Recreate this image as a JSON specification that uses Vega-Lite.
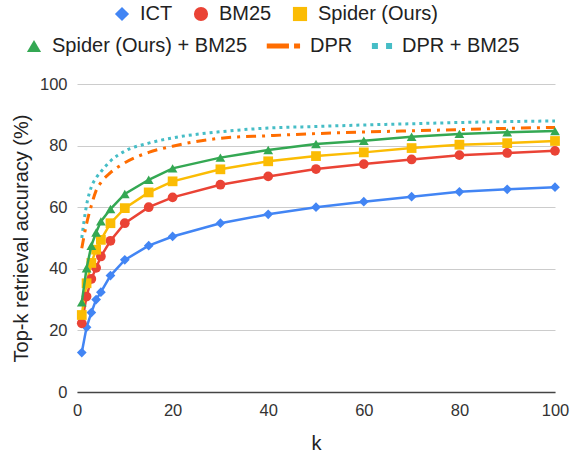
{
  "$schema": "https://vega.github.io/schema/vega-lite/v6.json",
  "width": 478,
  "height": 308,
  "autosize": {"type": "none"},
  "padding": {"left": 77, "top": 84, "right": 19, "bottom": 69},
  "background": "white",
  "config": {
    "font": "Liberation Sans",
    "view": {"stroke": null},
    "axis": {"labelFont": "Liberation Sans", "titleFont": "Liberation Sans", "labelColor": "#333", "titleColor": "#222", "titleFontWeight": "normal"},
    "legend": {"labelFont": "Liberation Sans", "labelFontSize": 20, "labelColor": "#222", "symbolSize": 200, "labelOffset": 8, "symbolStrokeWidth": 0, "labelLimit": 400}
  },
  "data": {
    "values": [
      {"k": 1, "s": "ICT", "v": 12.8}, {"k": 2, "s": "ICT", "v": 21.0}, {"k": 3, "s": "ICT", "v": 25.8}, {"k": 4, "s": "ICT", "v": 30.0}, {"k": 5, "s": "ICT", "v": 32.4}, {"k": 7, "s": "ICT", "v": 37.8}, {"k": 10, "s": "ICT", "v": 42.9}, {"k": 15, "s": "ICT", "v": 47.5}, {"k": 20, "s": "ICT", "v": 50.5}, {"k": 30, "s": "ICT", "v": 54.8}, {"k": 40, "s": "ICT", "v": 57.7}, {"k": 50, "s": "ICT", "v": 60.0}, {"k": 60, "s": "ICT", "v": 61.8}, {"k": 70, "s": "ICT", "v": 63.4}, {"k": 80, "s": "ICT", "v": 65.0}, {"k": 90, "s": "ICT", "v": 65.8}, {"k": 100, "s": "ICT", "v": 66.5},
      {"k": 1, "s": "BM25", "v": 22.3}, {"k": 2, "s": "BM25", "v": 31.0}, {"k": 3, "s": "BM25", "v": 36.7}, {"k": 4, "s": "BM25", "v": 40.3}, {"k": 5, "s": "BM25", "v": 44.0}, {"k": 7, "s": "BM25", "v": 49.1}, {"k": 10, "s": "BM25", "v": 54.8}, {"k": 15, "s": "BM25", "v": 60.0}, {"k": 20, "s": "BM25", "v": 63.2}, {"k": 30, "s": "BM25", "v": 67.3}, {"k": 40, "s": "BM25", "v": 70.0}, {"k": 50, "s": "BM25", "v": 72.4}, {"k": 60, "s": "BM25", "v": 74.0}, {"k": 70, "s": "BM25", "v": 75.5}, {"k": 80, "s": "BM25", "v": 76.9}, {"k": 90, "s": "BM25", "v": 77.6}, {"k": 100, "s": "BM25", "v": 78.3},
      {"k": 1, "s": "Spider (Ours)", "v": 25.0}, {"k": 2, "s": "Spider (Ours)", "v": 35.3}, {"k": 3, "s": "Spider (Ours)", "v": 41.9}, {"k": 4, "s": "Spider (Ours)", "v": 46.2}, {"k": 5, "s": "Spider (Ours)", "v": 49.4}, {"k": 7, "s": "Spider (Ours)", "v": 54.8}, {"k": 10, "s": "Spider (Ours)", "v": 59.7}, {"k": 15, "s": "Spider (Ours)", "v": 64.8}, {"k": 20, "s": "Spider (Ours)", "v": 68.4}, {"k": 30, "s": "Spider (Ours)", "v": 72.3}, {"k": 40, "s": "Spider (Ours)", "v": 74.9}, {"k": 50, "s": "Spider (Ours)", "v": 76.6}, {"k": 60, "s": "Spider (Ours)", "v": 77.8}, {"k": 70, "s": "Spider (Ours)", "v": 79.2}, {"k": 80, "s": "Spider (Ours)", "v": 80.3}, {"k": 90, "s": "Spider (Ours)", "v": 80.8}, {"k": 100, "s": "Spider (Ours)", "v": 81.5},
      {"k": 1, "s": "Spider (Ours) + BM25", "v": 29.1}, {"k": 2, "s": "Spider (Ours) + BM25", "v": 40.2}, {"k": 3, "s": "Spider (Ours) + BM25", "v": 47.5}, {"k": 4, "s": "Spider (Ours) + BM25", "v": 51.8}, {"k": 5, "s": "Spider (Ours) + BM25", "v": 55.4}, {"k": 7, "s": "Spider (Ours) + BM25", "v": 59.4}, {"k": 10, "s": "Spider (Ours) + BM25", "v": 64.3}, {"k": 15, "s": "Spider (Ours) + BM25", "v": 68.9}, {"k": 20, "s": "Spider (Ours) + BM25", "v": 72.6}, {"k": 30, "s": "Spider (Ours) + BM25", "v": 76.1}, {"k": 40, "s": "Spider (Ours) + BM25", "v": 78.6}, {"k": 50, "s": "Spider (Ours) + BM25", "v": 80.5}, {"k": 60, "s": "Spider (Ours) + BM25", "v": 81.6}, {"k": 70, "s": "Spider (Ours) + BM25", "v": 82.9}, {"k": 80, "s": "Spider (Ours) + BM25", "v": 83.8}, {"k": 90, "s": "Spider (Ours) + BM25", "v": 84.3}, {"k": 100, "s": "Spider (Ours) + BM25", "v": 84.7},
      {"k": 1, "s": "DPR", "v": 46.7}, {"k": 2, "s": "DPR", "v": 54.6}, {"k": 3, "s": "DPR", "v": 60.5}, {"k": 4, "s": "DPR", "v": 65.4}, {"k": 5, "s": "DPR", "v": 68.0}, {"k": 7, "s": "DPR", "v": 71.2}, {"k": 10, "s": "DPR", "v": 74.4}, {"k": 15, "s": "DPR", "v": 77.8}, {"k": 20, "s": "DPR", "v": 79.8}, {"k": 30, "s": "DPR", "v": 82.4}, {"k": 40, "s": "DPR", "v": 83.2}, {"k": 50, "s": "DPR", "v": 83.9}, {"k": 60, "s": "DPR", "v": 84.4}, {"k": 70, "s": "DPR", "v": 84.8}, {"k": 80, "s": "DPR", "v": 85.2}, {"k": 90, "s": "DPR", "v": 85.6}, {"k": 100, "s": "DPR", "v": 85.9},
      {"k": 1, "s": "DPR + BM25", "v": 50.0}, {"k": 2, "s": "DPR + BM25", "v": 60.7}, {"k": 3, "s": "DPR + BM25", "v": 66.6}, {"k": 4, "s": "DPR + BM25", "v": 69.5}, {"k": 5, "s": "DPR + BM25", "v": 71.5}, {"k": 7, "s": "DPR + BM25", "v": 75.0}, {"k": 10, "s": "DPR + BM25", "v": 78.2}, {"k": 15, "s": "DPR + BM25", "v": 80.8}, {"k": 20, "s": "DPR + BM25", "v": 82.5}, {"k": 30, "s": "DPR + BM25", "v": 84.5}, {"k": 40, "s": "DPR + BM25", "v": 85.7}, {"k": 50, "s": "DPR + BM25", "v": 86.2}, {"k": 60, "s": "DPR + BM25", "v": 86.7}, {"k": 70, "s": "DPR + BM25", "v": 87.1}, {"k": 80, "s": "DPR + BM25", "v": 87.5}, {"k": 90, "s": "DPR + BM25", "v": 87.8}, {"k": 100, "s": "DPR + BM25", "v": 88.0}
    ]
  },
  "encoding": {
    "x": {"field": "k", "type": "quantitative", "scale": {"domain": [0, 100], "nice": false},
      "axis": {"title": "k", "titleFontSize": 20, "titlePadding": 15, "labelFontSize": 16.5, "labelPadding": 10, "grid": false, "ticks": false, "domain": true, "domainColor": "#444", "domainWidth": 1.5, "values": [0, 20, 40, 60, 80, 100], "labelFlush": false}},
    "y": {"field": "v", "type": "quantitative", "scale": {"domain": [0, 100], "nice": false},
      "axis": {"title": "Top-k retrieval accuracy (%)", "titleFontSize": 20, "titlePadding": 8, "labelFontSize": 16.5, "labelPadding": 10, "grid": true, "gridColor": "#cccccc", "gridWidth": 1, "ticks": false, "domain": false, "values": [0, 20, 40, 60, 80, 100]}}
  },
  "layer": [
    {
      "transform": [{"filter": {"field": "s", "oneOf": ["ICT", "BM25", "Spider (Ours)"]}}],
      "encoding": {
        "color": {"field": "s", "type": "nominal", "title": null,
          "scale": {"domain": ["ICT", "BM25", "Spider (Ours)"], "range": ["#4285F4", "#EA4335", "#FBBC04"]},
          "legend": {"orient": "none", "legendX": 35, "legendY": -80, "direction": "horizontal", "columnPadding": 18, "title": null}}
      },
      "layer": [
        {"mark": {"type": "line", "strokeWidth": 2.5}},
        {"mark": {"type": "point", "filled": true, "opacity": 1, "size": 95},
          "encoding": {"shape": {"field": "s", "type": "nominal", "title": null,
            "scale": {"domain": ["ICT", "BM25", "Spider (Ours)"], "range": ["diamond", "circle", "square"]},
            "legend": {"orient": "none", "legendX": 35, "legendY": -80, "direction": "horizontal", "columnPadding": 18, "title": null}}}}
      ]
    },
    {
      "transform": [{"filter": {"field": "s", "oneOf": ["Spider (Ours) + BM25", "DPR", "DPR + BM25"]}}],
      "encoding": {
        "color": {"field": "s", "type": "nominal", "title": null,
          "scale": {"domain": ["Spider (Ours) + BM25", "DPR", "DPR + BM25"], "range": ["#34A853", "#FF6D01", "#46BDC6"]},
          "legend": {"orient": "none", "legendX": -53, "legendY": -48, "direction": "horizontal", "columnPadding": 18, "title": null}}
      },
      "layer": [
        {"transform": [{"filter": {"field": "s", "equal": "DPR + BM25"}}],
          "mark": {"type": "line", "strokeWidth": 3, "strokeDash": [3, 4], "interpolate": "monotone"}},
        {"transform": [{"filter": {"field": "s", "equal": "DPR"}}],
          "mark": {"type": "line", "strokeWidth": 3, "strokeDash": [10, 6, 3, 6], "interpolate": "monotone"}},
        {"transform": [{"filter": {"field": "s", "equal": "Spider (Ours) + BM25"}}],
          "mark": {"type": "line", "strokeWidth": 2.5}},
        {"transform": [{"filter": {"field": "s", "equal": "Spider (Ours) + BM25"}}],
          "mark": {"type": "point", "filled": true, "opacity": 1, "size": 95},
          "encoding": {"shape": {"field": "s", "type": "nominal", "title": null,
            "scale": {"domain": ["Spider (Ours) + BM25", "DPR", "DPR + BM25"], "range": ["triangle-up", "M-3.57,-0.36H-0.43V0.36H-3.57Z M0.29,-0.36H1.14V0.36H0.29Z", "M-1.71,-0.43H-0.86V0.43H-1.71Z M0.29,-0.43H1.14V0.43H0.29Z"]},
            "legend": {"orient": "none", "legendX": -53, "legendY": -48, "direction": "horizontal", "columnPadding": 18, "title": null}}}}
      ]
    }
  ],
  "resolve": {"scale": {"color": "independent", "shape": "independent"}}
}
